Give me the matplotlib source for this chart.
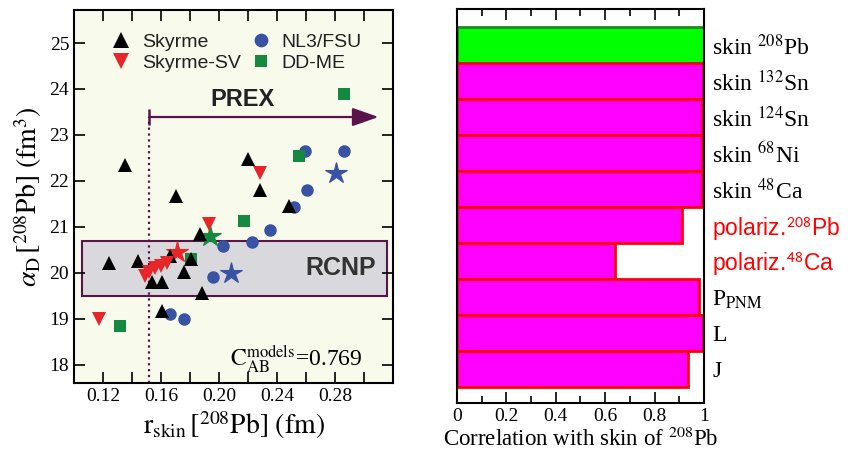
import matplotlib

matplotlib.use("Agg")

import matplotlib.pyplot as plt
from matplotlib.patches import Rectangle

plt.rcParams["mathtext.fontset"] = "stix"
plt.rcParams["font.family"] = "Liberation Serif"

# --- left panel: alpha_D vs r_skin for several model families ---
skyrme_x = [0.135, 0.170, 0.220, 0.228, 0.248, 0.187, 0.124, 0.144, 0.154,
            0.161, 0.161, 0.188, 0.181, 0.176, 0.166]
skyrme_y = [22.35, 21.68, 22.47, 21.80, 21.45, 20.85, 20.22, 20.26, 19.80,
            19.80, 19.17, 19.56, 20.30, 20.02, 20.37]

sv_x = [0.117, 0.228, 0.193, 0.149, 0.152, 0.156, 0.160, 0.164]
sv_y = [19.00, 22.17, 21.07, 19.93, 20.02, 20.10, 20.15, 20.22]

nl3_x = [0.259, 0.286, 0.261, 0.252, 0.235, 0.223, 0.203, 0.196, 0.166, 0.176]
nl3_y = [22.65, 22.65, 21.80, 21.43, 20.93, 20.67, 20.59, 19.91, 19.11, 19.00]

ddme_x = [0.286, 0.255, 0.217, 0.132, 0.181]
ddme_y = [23.89, 22.54, 21.13, 18.85, 20.30]

star_x = [0.171, 0.194, 0.208, 0.281]
star_y = [20.45, 20.80, 20.00, 22.17]
star_family = ["sv", "ddme", "nl3", "nl3"]

rcnp_alpha = 20.1
rcnp_err = 0.6
prex_rskin_low = 0.152
prex_arrow_end = 0.31
c_ab = 0.769

# --- right panel: correlation coefficients ---
corr_labels = [r"skin $^{208}$Pb", r"skin $^{132}$Sn", r"skin $^{124}$Sn",
               r"skin $^{68}$Ni", r"skin $^{48}$Ca", r"polariz.$^{\mathsf{208}}$Pb",
               r"polariz.$^{\mathsf{48}}$Ca", r"P$_{\mathrm{PNM}}$", "L", "J"]
corr_values = [1.0, 0.995, 0.99, 0.99, 0.99, 0.91, 0.64, 0.98, 0.995, 0.935]
corr_tick_values = [0, 0.2, 0.4, 0.6, 0.8, 1.0]
corr_tick_labels = ["0", "0.2", "0.4", "0.6", "0.8", "1"]

fam_colors = {"skyrme": "black", "sv": "#e8262a", "nl3": "#3953a4", "ddme": "#14893f"}
purple = "#5c1349"

fig = plt.figure(figsize=(8.48, 4.54), dpi=100)
ax = fig.add_axes([0.0873, 0.1564, 0.3762, 0.8216])
ax.set_facecolor("#f8faeb")

ax.add_patch(Rectangle((0.1055, rcnp_alpha - rcnp_err), 0.21, 2 * rcnp_err,
                       facecolor="#d9d9dd", edgecolor=purple, lw=1.5, zorder=1))
ax.text(0.284, rcnp_alpha, "RCNP", family="Liberation Sans", weight="bold",
        fontsize=18, color="#333333", ha="center", va="center", zorder=2)

ax.plot(nl3_x, nl3_y, "o", color=fam_colors["nl3"], ms=9, mew=0, zorder=3, label="NL3/FSU")
ax.plot(ddme_x, ddme_y, "s", color=fam_colors["ddme"], ms=8, mew=0, zorder=3, label="DD-ME")
for sx, sy, fam in zip(star_x, star_y, star_family):
    ax.plot(sx, sy, "*", color=fam_colors[fam], ms=16, mew=0.8, mec=fam_colors[fam], zorder=4)
ax.plot(skyrme_x, skyrme_y, "^", color=fam_colors["skyrme"], ms=10, mew=0, zorder=5, label="Skyrme")
ax.plot(sv_x, sv_y, "v", color=fam_colors["sv"], ms=10, mew=0, zorder=6, label="Skyrme-SV")

ax.set_xlim(0.10, 0.32)
ax.set_ylim(17.6, 25.72)

# PREX lower bound and arrow
prex_y = 23.39
ax.plot([prex_rskin_low, prex_rskin_low], [17.6, prex_y], ":", color=purple, lw=1.6, zorder=2)
ax.plot(prex_rskin_low, prex_y, "|", color=purple, ms=12, mew=1.8, zorder=2)
ax.annotate("", xy=(prex_arrow_end, prex_y), xytext=(prex_rskin_low, prex_y),
            arrowprops=dict(arrowstyle="-|>,head_length=0.8,head_width=0.28",
                            color=purple, lw=1.6, mutation_scale=20, shrinkA=0, shrinkB=0))
ax.text(0.216, 23.78, "PREX", family="Liberation Sans", weight="bold",
        fontsize=17, color="#222222", ha="center", va="center")

ax.text(0.253, 18.12, r"$\mathrm{C_{AB}^{models}}$=0.769", fontsize=17,
        ha="center", va="center")

handles, labels = ax.get_legend_handles_labels()
order = [2, 3, 0, 1]
leg = ax.legend([handles[i] for i in order], [labels[i] for i in order], ncol=2,
                loc="upper left", bbox_to_anchor=(0.06, 0.985), frameon=False,
                prop={"family": "Liberation Sans", "size": 14}, handletextpad=0.5,
                columnspacing=0.5, handlelength=1.1, labelspacing=0.2, markerscale=1.1)
for t in leg.get_texts():
    t.set_color("#222222")

ax.set_xticks([0.12, 0.16, 0.20, 0.24, 0.28])
ax.set_xticklabels(["0.12", "0.16", "0.20", "0.24", "0.28"])
ax.set_xticks([0.10, 0.14, 0.18, 0.22, 0.26, 0.30], minor=True)
ax.set_yticks([18, 19, 20, 21, 22, 23, 24, 25])
ax.set_yticks([17.5 + 0.5 * k for k in range(1, 17, 2)], minor=True)
ax.tick_params(which="both", direction="in", top=True, right=True, labelsize=14, width=1.2)
ax.tick_params(which="major", length=8)
ax.tick_params(axis="x", which="minor", length=8)
ax.tick_params(axis="y", which="minor", length=5)
for sp in ax.spines.values():
    sp.set_linewidth(1.5)
ax.set_xlabel(r"$\mathrm{r_{skin}}\,[^{208}\mathrm{Pb}]\ (\mathrm{fm})$", fontsize=20, labelpad=3)
ax.set_ylabel(r"$\alpha_{\mathrm{D}}\,[^{208}\mathrm{Pb}]\ (\mathrm{fm}^3)$", fontsize=20, labelpad=4)

# --- right panel ---
ax2 = fig.add_axes([0.5389, 0.1123, 0.2913, 0.8678])
ypos = [len(corr_values) - 1 - i for i in range(len(corr_values))]
face = ["#00ff00"] + ["#ff00ff"] * (len(corr_values) - 1)
edge = ["#1f8a1f"] + ["#ff0000"] * (len(corr_values) - 1)
ax2.barh(ypos, corr_values, height=1.0, color=face, edgecolor=edge, linewidth=2)
ax2.set_xlim(0, 1)
ax2.set_ylim(-0.95, 10.0)
ax2.set_xticks(corr_tick_values)
ax2.set_xticklabels(corr_tick_labels)
ax2.set_xticks([0.1, 0.3, 0.5, 0.7, 0.9], minor=True)
ax2.tick_params(which="both", direction="in", top=True, labelsize=14, width=1.2)
ax2.tick_params(which="major", length=8)
ax2.tick_params(which="minor", length=5)
ax2.yaxis.tick_right()
ax2.set_yticks(ypos)
ax2.set_yticklabels(corr_labels)
ax2.tick_params(axis="y", length=0, pad=6, labelsize=17)
for lab in ax2.get_yticklabels():
    if lab.get_text().startswith("polariz"):
        lab.set_color("red")
        lab.set_family("Liberation Sans")
        lab.set_fontsize(16.5)
for sp in ax2.spines.values():
    sp.set_linewidth(1.5)
ax2.set_xlabel(r"Correlation with skin of $^{208}$Pb", fontsize=16.5, labelpad=2)

fig.savefig("out.png", dpi=100)
